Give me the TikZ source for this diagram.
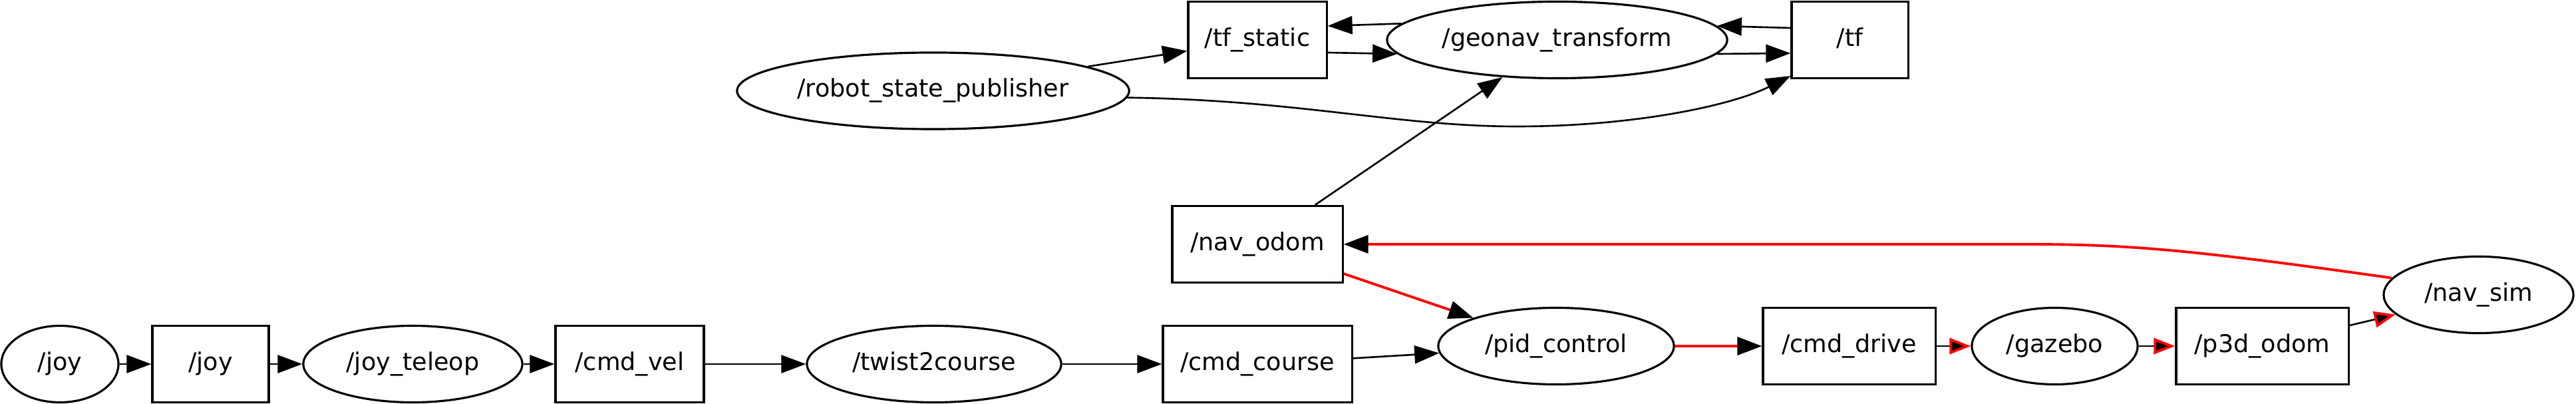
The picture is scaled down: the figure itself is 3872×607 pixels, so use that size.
\documentclass[tikz,border=0pt]{standalone}
\usepackage{fontspec}
\setmainfont{DejaVu Sans}
\usetikzlibrary{shapes.geometric,arrows.meta,calc}
\tikzset{
  lbl/.style={font=\fontsize{10.4pt}{12pt}\selectfont, text height=2.77mm, text depth=0.88mm, inner sep=0pt},
  topicbox/.style={lbl, draw, rectangle, line width=0.9pt, minimum height=1.15cm},
  procnode/.style={lbl, draw, ellipse, line width=0.9pt, minimum height=1.15cm},
  blk/.style={line width=0.75pt, -{Triangle[length=3.7mm,width=2.7mm]}},
  redline/.style={red, line width=1.1pt, -{Triangle[length=3.7mm,width=2.7mm,color=black,fill=black]}},
  redhead/.style={line width=0.75pt, -{Triangle[length=3.2mm,width=2.4mm,color=red,fill=black,line width=1.1pt]}}
}
\begin{document}
\begin{tikzpicture}[x=0.01cm,y=-0.01cm]
\fill[white] (0,0) rectangle (3872,607);
\useasboundingbox (0,0) rectangle (3872,607);
% nodes
\node[procnode, minimum width=1.76cm] (joyn) at (90,547) {/joy};
\node[topicbox, minimum width=1.75cm] (joyt) at (316.5,547) {/joy};
\node[procnode, minimum width=3.29cm] (teleop) at (620.5,547) {/joy\_teleop};
\node[topicbox, minimum width=2.23cm] (cmdvel) at (946.5,547) {/cmd\_vel};
\node[procnode, minimum width=3.82cm] (twist) at (1404,547) {/twist2course};
\node[topicbox, minimum width=2.84cm] (cmdcourse) at (1890,547) {/cmd\_course};
\node[topicbox, minimum width=2.56cm] (navodom) at (1890,367) {/nav\_odom};
\node[procnode, minimum width=3.54cm] (pid) at (2339,520) {/pid\_control};
\node[topicbox, minimum width=2.59cm] (cmddrive) at (2779.5,520) {/cmd\_drive};
\node[procnode, minimum width=2.49cm] (gazebo) at (3088.5,520) {/gazebo};
\node[topicbox, minimum width=2.59cm] (p3d) at (3400.5,520) {/p3d\_odom};
\node[procnode, minimum width=2.85cm] (navsim) at (3725.5,443) {/nav\_sim};
\node[procnode, minimum width=5.89cm] (rsp) at (1402.5,136.5) {/robot\_state\_publisher};
\node[topicbox, minimum width=2.08cm] (tfstatic) at (1890,60) {/tf\_static};
\node[procnode, minimum width=5.11cm] (geonav) at (2340.5,60) {/geonav\_transform};
\node[topicbox, minimum width=1.75cm] (tf) at (2780.5,60) {/tf};
% edges
\draw[blk] (joyn) -- (joyt);
\draw[blk] (joyt) -- (teleop);
\draw[blk] (teleop) -- (cmdvel);
\draw[blk] (cmdvel) -- (twist);
\draw[blk] (twist) -- (cmdcourse);
\draw[blk] (cmdcourse) -- (pid);
\draw[redline] (navodom) -- (pid);
\draw[blk] (navodom) -- (geonav);
\draw[redline] (pid) -- (cmddrive);
\draw[redhead] (cmddrive) -- (gazebo);
\draw[redhead] (gazebo) -- (p3d);
\draw[redhead] (p3d) -- (navsim);
\draw[redline] (navsim.169) .. controls (3300,376) and (3200,367) .. (3050,367) -- (navodom.east);
\draw[blk] (rsp) -- (tfstatic);
\draw[blk] ($(tfstatic.east)+(0,19)$) -- (geonav.185.5);
\draw[blk] (geonav.174.5) -- ($(tfstatic.east)+(0,-21)$);
\draw[blk] ($(tf.west)+(0,-18)$) -- (geonav.5.3);
\draw[blk] (geonav.-5.3) -- ($(tf.west)+(0,20)$);
\draw[blk] (rsp.-2.4) .. controls (1950,150) and (2100,190) .. (2280,190) .. controls (2450,190) and (2600,160) .. ($(tf.south west)+(0,-5)$);
\end{tikzpicture}
\end{document}
